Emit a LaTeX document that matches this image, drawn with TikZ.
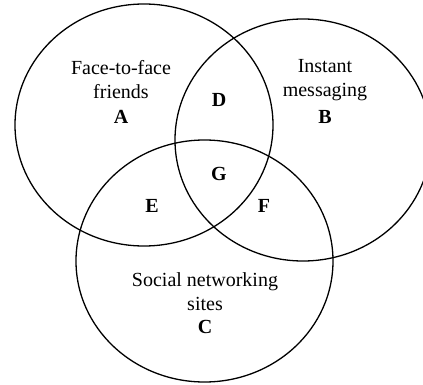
\documentclass[tikz,border=0pt]{standalone}
\usepackage{fontspec}
\setmainfont{Liberation Serif}
\begin{document}
\begin{tikzpicture}[x=1pt,y=-1pt,
  venn/.style={draw=black,line width=1.3pt},
  lbl/.style={font=\fontsize{20}{24}\selectfont,align=center,inner sep=0pt},
  reg/.style={font=\fontsize{20}{24}\selectfont\bfseries,inner sep=0pt}]
\useasboundingbox (0,0) rectangle (423,385);
\clip (0,0) rectangle (423,385);
\draw[venn] (144,125) ellipse [x radius=129, y radius=121];
\draw[venn] (303,140) ellipse [x radius=128, y radius=121];
\draw[venn] (204.5,261) ellipse [x radius=128.5, y radius=121];
\node[lbl] (la) at (121,80) {Face-to-face\\friends};
\node[reg] (a) at (121,117) {A};
\node[lbl] (lb) at (325,80) {Instant\\messaging};
\node[reg] (b) at (325,117) {B};
\node[lbl] (lc) at (205,292) {Social networking\\sites};
\node[reg] (c) at (205,327) {C};
\node[reg] (d) at (219,100) {D};
\node[reg] (g) at (219,174) {G};
\node[reg] (e) at (152,206) {E};
\node[reg] (f) at (264,206) {F};
\end{tikzpicture}
\end{document}
